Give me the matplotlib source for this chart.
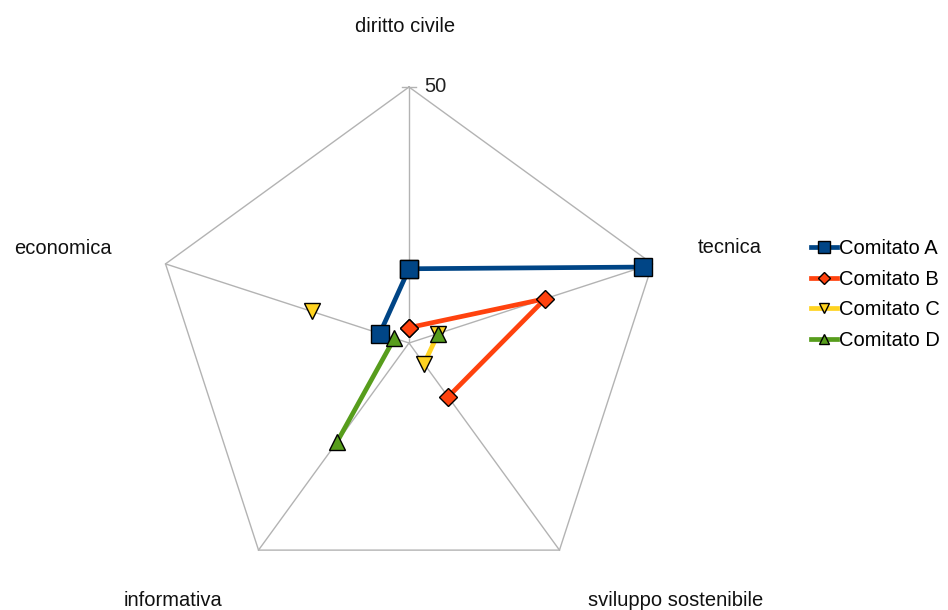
import numpy as np
import matplotlib
matplotlib.use("Agg")
import matplotlib.pyplot as plt

plt.rcParams['font.family'] = ['Liberation Sans', 'DejaVu Sans']

# axes of the radar, clockwise from the top
categories = ["diritto civile", "tecnica", "sviluppo sostenibile", "informativa", "economica"]
r_max = 50

# nan = no value (OpenOffice leaves a gap there)
comitato_a = [14.5, 48, np.nan, np.nan, 6]
comitato_b = [3, 28, 13, np.nan, np.nan]
comitato_c = [np.nan, 6, 5, np.nan, 20]
comitato_d = [np.nan, 6, np.nan, 24, 3]

series_names = ["Comitato A", "Comitato B", "Comitato C", "Comitato D"]
series_values = [comitato_a, comitato_b, comitato_c, comitato_d]
colors = ["#004586", "#ff420e", "#ffd320", "#579d1c"]
markers = ["s", "D", "v", "^"]
marker_sizes = [12.5, 9.5, 12, 12]

W, H = 948, 610
cx, cy, R = 409, 343, 256     # centre and radius of the pentagon, pixels
s = R / r_max
fs = 14.5

fig = plt.figure(figsize=(W / 100, H / 100), dpi=100)
ax = fig.add_axes([0, 0, 1, 1])
ax.set_xlim(-cx / s, (W - cx) / s)
ax.set_ylim(-(H - cy) / s, cy / s)
ax.axis('off')

n = len(categories)
theta = np.pi / 2 - 2 * np.pi * np.arange(n) / n
grid_col = "#b3b3b3"

# spokes and outer pentagon
for t in theta:
    ax.plot([0, r_max * np.cos(t)], [0, r_max * np.sin(t)], color=grid_col, lw=1, zorder=1)
px = np.append(r_max * np.cos(theta), r_max * np.cos(theta[0]))
py = np.append(r_max * np.sin(theta), r_max * np.sin(theta[0]))
ax.plot(px, py, color=grid_col, lw=1, zorder=1)
# small tick at the top of the value axis
ax.plot([-1.4, 1.4], [r_max, r_max], color=grid_col, lw=1, zorder=1)
ax.text(3, r_max, str(r_max), fontsize=fs, ha='left', va='center', color="#222222")

for name, vals, c, m, ms in zip(series_names, series_values, colors, markers, marker_sizes):
    v = np.append(vals, vals[0])
    t = np.append(theta, theta[0])
    ax.plot(v * np.cos(t), v * np.sin(t), color=c, lw=3.4, marker=m, markersize=ms,
            markerfacecolor=c, markeredgecolor="black", markeredgewidth=1,
            label=name, zorder=3)

# category labels
label_pos = [(405, 27), (730, 247), (676, 600), (173, 600), (63, 248)]
for lab, (x, y) in zip(categories, label_pos):
    fig.text(x / W, 1 - y / H, lab, fontsize=fs, ha='center', va='center', color="#111111")

leg = ax.legend(loc='upper left', bbox_to_anchor=(811 / W, 1 - 239 / H),
                bbox_transform=fig.transFigure, frameon=False, fontsize=fs,
                handlelength=1.3, handletextpad=0.1, labelspacing=0.58,
                borderpad=0, borderaxespad=0, markerscale=0.65)

fig.savefig("out.png", dpi=100)
